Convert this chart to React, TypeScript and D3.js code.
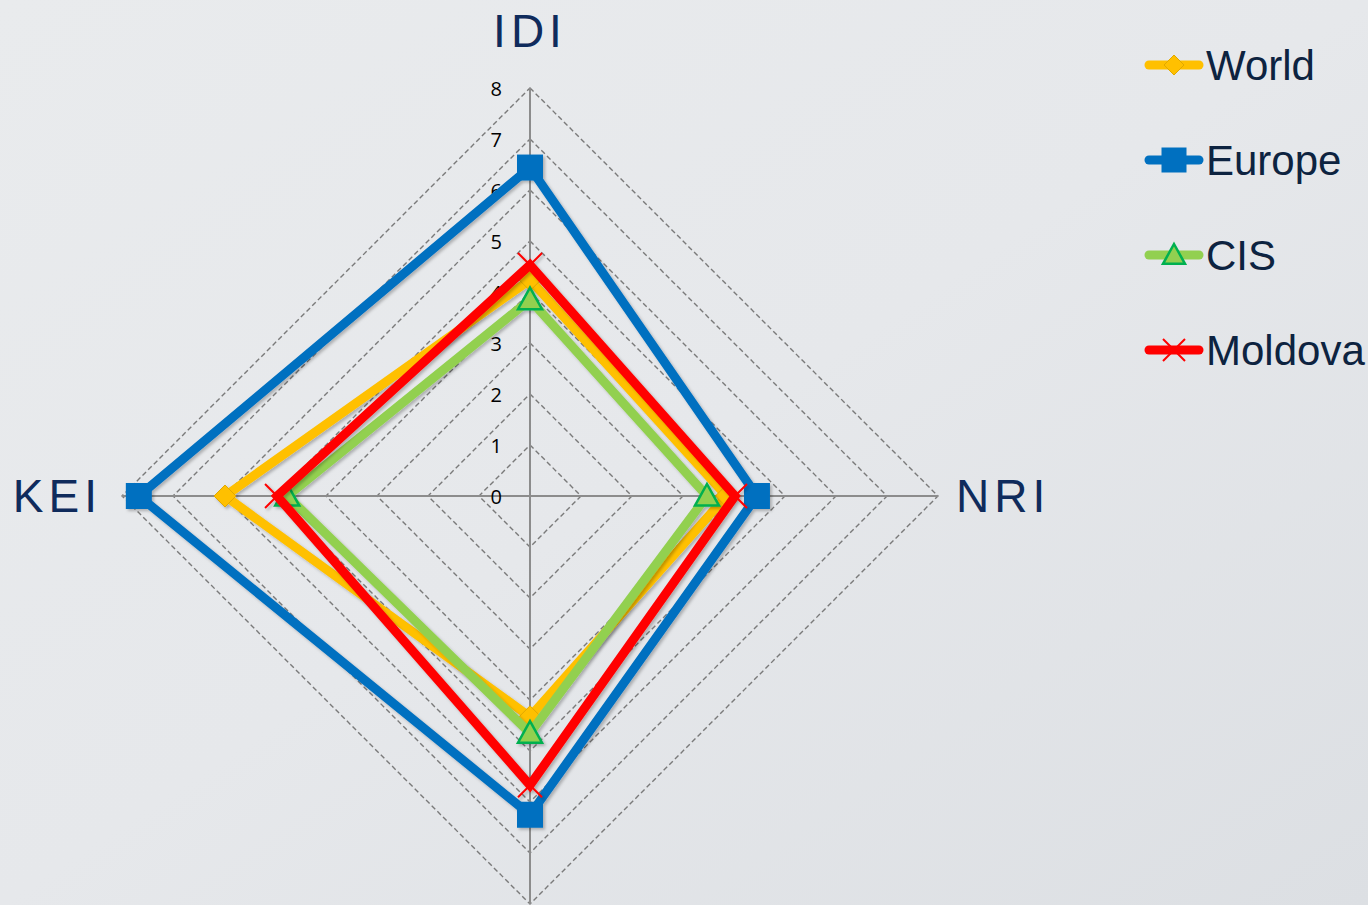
import React from "react";
import * as d3 from "d3";

const categories = ["IDI", "NRI", "", "KEI"];
const seriesNames = ["World", "Europe", "CIS", "Moldova"];
const worldValues = [4.24, 3.85, 4.33, 5.98];
const europeValues = [6.44, 4.45, 6.25, 7.67];
const cisValues = [3.85, 3.47, 4.65, 4.76];
const moldovaValues = [4.53, 4.02, 5.67, 4.96];
const tickValues = [0, 1, 2, 3, 4, 5, 6, 7, 8];

const colors: Record<string, string> = {
  World: "#FFC000",
  Europe: "#0070C0",
  CIS: "#92D050",
  Moldova: "#FF0000",
};
const markers: Record<string, string> = {
  World: "diamond",
  Europe: "square",
  CIS: "triangle",
  Moldova: "x",
};

const W = 1368;
const H = 905;
const cx = 530;
const cy = 496;
const R = 408;

const rScale = d3.scaleLinear().domain([0, 8]).range([0, R]);
const angle = (i: number) => (i * 2 * Math.PI) / categories.length;
const pt = (i: number, v: number): [number, number] => [
  cx + rScale(v) * Math.sin(angle(i)),
  cy - rScale(v) * Math.cos(angle(i)),
];

function Marker({ type, x, y, color, s }: { type: string; x: number; y: number; color: string; s: number }) {
  if (type === "square") {
    return <rect x={x - s / 2} y={y - s / 2} width={s} height={s} fill={color} />;
  }
  if (type === "diamond") {
    const h = s / 2;
    return (
      <path
        d={`M${x},${y - h}L${x + h},${y}L${x},${y + h}L${x - h},${y}Z`}
        fill={color}
        stroke="#E0A800"
        strokeWidth={1}
      />
    );
  }
  if (type === "triangle") {
    const h = s / 2;
    return (
      <path
        d={`M${x},${y - h}L${x + h},${y + h * 0.8}L${x - h},${y + h * 0.8}Z`}
        fill={color}
        stroke="#00B050"
        strokeWidth={2.5}
        strokeLinejoin="miter"
      />
    );
  }
  const h = s / 2;
  return (
    <path
      d={`M${x - h},${y - h}L${x + h},${y + h}M${x + h},${y - h}L${x - h},${y + h}`}
      stroke={color}
      strokeWidth={2}
      fill="none"
    />
  );
}

export default function App() {
  const data: Record<string, number[]> = {
    World: worldValues,
    Europe: europeValues,
    CIS: cisValues,
    Moldova: moldovaValues,
  };
  const line = d3.line<[number, number]>().curve(d3.curveLinearClosed);
  const gridLevels = tickValues.filter((t) => t > 0);
  const markerSize: Record<string, number> = { World: 22, Europe: 26, CIS: 24, Moldova: 24 };
  const legendY = d3.scalePoint<string>().domain(seriesNames).range([65, 350]);
  const labelPos = [
    { x: 530, y: 31, anchor: "middle" },
    { x: 956, y: 496, anchor: "start" },
    { x: 530, y: 930, anchor: "middle" },
    { x: 102, y: 496, anchor: "end" },
  ];

  return (
    <svg
      width={W}
      height={H}
      style={{ position: "absolute", left: 0, top: 0, display: "block" }}
      fontFamily="'Liberation Sans', Arial, sans-serif"
    >
      <defs>
        <linearGradient id="bg" x1="0" y1="0" x2="1" y2="1">
          <stop offset="0" stopColor="#e9ebed" />
          <stop offset="0.5" stopColor="#e6e8eb" />
          <stop offset="1" stopColor="#dcdfe3" />
        </linearGradient>
        <filter id="shadow" x="-20%" y="-20%" width="140%" height="140%">
          <feDropShadow dx="2" dy="2" stdDeviation="1.5" floodColor="#000" floodOpacity="0.25" />
        </filter>
      </defs>
      <rect width={W} height={H} fill="url(#bg)" />

      {/* grid */}
      {gridLevels.map((t) => (
        <path
          key={t}
          d={line(categories.map((_, i) => pt(i, t))) || ""}
          fill="none"
          stroke="#7a7a7a"
          strokeWidth={1.4}
          strokeDasharray="5 3"
        />
      ))}
      {categories.map((_, i) => {
        const [x, y] = pt(i, 8);
        return <line key={i} x1={cx} y1={cy} x2={x} y2={y} stroke="#8c8c8c" strokeWidth={2} />;
      })}

      {/* tick labels */}
      {tickValues.map((t) => (
        <text
          key={t}
          x={502}
          y={cy - rScale(t)}
          textAnchor="end"
          dominantBaseline="central"
          fontSize={20}
          fontFamily="'Open Sans', sans-serif"
          fill="#000"
        >
          {t}
        </text>
      ))}

      {/* series */}
      {seriesNames.map((name) => (
        <g key={name} filter="url(#shadow)">
          <path
            d={line(data[name].map((v, i) => pt(i, v))) || ""}
            fill="none"
            stroke={colors[name]}
            strokeWidth={9}
            strokeLinejoin="miter"
          />
          {data[name].map((v, i) => {
            const [x, y] = pt(i, v);
            return <Marker key={i} type={markers[name]} x={x} y={y} color={colors[name]} s={markerSize[name]} />;
          })}
        </g>
      ))}

      {/* axis labels */}
      {categories.map((c, i) =>
        c && labelPos[i].y < H ? (
          <text
            key={i}
            x={labelPos[i].x}
            y={labelPos[i].y}
            textAnchor={labelPos[i].anchor}
            dominantBaseline="central"
            fontSize={46}
            letterSpacing={5}
            fill="#0f2b5c"
          >
            {c}
          </text>
        ) : null
      )}

      {/* legend */}
      {seriesNames.map((name) => {
        const y = legendY(name) || 0;
        return (
          <g key={name}>
            <line x1={1149} y1={y} x2={1199} y2={y} stroke={colors[name]} strokeWidth={9} strokeLinecap="round" />
            <Marker type={markers[name]} x={1174} y={y} color={colors[name]} s={name === "Europe" ? 25 : name === "World" ? 20 : 22} />
            <text x={1206} y={y} dominantBaseline="central" fontSize={42} fill="#0d2340">
              {name}
            </text>
          </g>
        );
      })}
    </svg>
  );
}
